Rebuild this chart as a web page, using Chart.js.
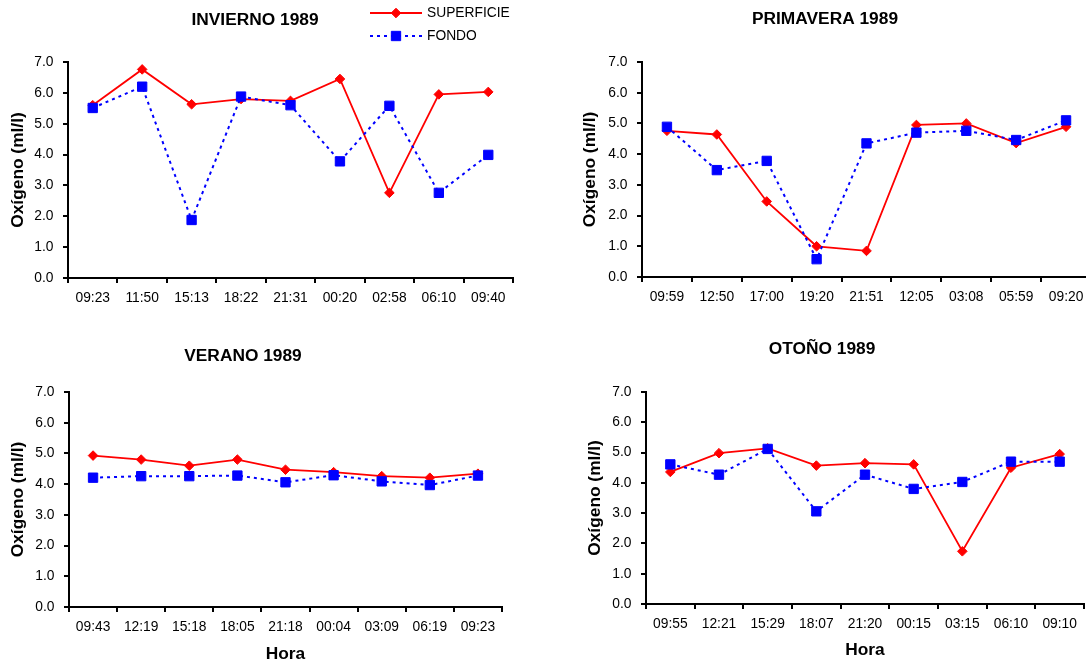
<!DOCTYPE html>
<html>
<head>
<meta charset="utf-8">
<script src="https://cdn.jsdelivr.net/npm/chart.js@4.4.1/dist/chart.umd.min.js"></script>
<style>
html, body { margin:0; padding:0; background:#fff; overflow:hidden; width:1086px; height:661px; }
.panel { position:absolute; }
</style>
</head>
<body>
<div class="panel" style="left:0px;top:0px;width:543px;height:320px"><canvas id="cInvierno" width="543" height="320"></canvas></div>
<div class="panel" style="left:543px;top:0px;width:560px;height:320px"><canvas id="cPrimavera" width="560" height="320"></canvas></div>
<div class="panel" style="left:0px;top:330px;width:543px;height:340px"><canvas id="cVerano" width="543" height="340"></canvas></div>
<div class="panel" style="left:543px;top:330px;width:560px;height:340px"><canvas id="cOtono" width="560" height="340"></canvas></div>
<script>
// ---------------- DATA ----------------
const seriesNames = ['SUPERFICIE', 'FONDO'];
const yTickLabels = ['0.0', '1.0', '2.0', '3.0', '4.0', '5.0', '6.0', '7.0'];

const inviernoHoras = ['09:23', '11:50', '15:13', '18:22', '21:31', '00:20', '02:58', '06:10', '09:40'];
const inviernoSuperficie = [5.60, 6.76, 5.63, 5.80, 5.74, 6.45, 2.76, 5.95, 6.03];
const inviernoFondo = [5.51, 6.20, 1.88, 5.88, 5.60, 3.78, 5.58, 2.76, 3.99];

const primaveraHoras = ['09:59', '12:50', '17:00', '19:20', '21:51', '12:05', '03:08', '05:59', '09:20'];
const primaveraSuperficie = [4.76, 4.64, 2.46, 1.00, 0.85, 4.95, 5.00, 4.36, 4.89];
const primaveraFondo = [4.89, 3.48, 3.78, 0.58, 4.35, 4.70, 4.76, 4.46, 5.10];

const veranoHoras = ['09:43', '12:19', '15:18', '18:05', '21:18', '00:04', '03:09', '06:19', '09:23'];
const veranoSuperficie = [4.93, 4.80, 4.60, 4.80, 4.47, 4.39, 4.26, 4.21, 4.34];
const veranoFondo = [4.21, 4.26, 4.26, 4.28, 4.06, 4.29, 4.09, 3.97, 4.28];

const otonoHoras = ['09:55', '12:21', '15:29', '18:07', '21:20', '00:15', '03:15', '06:10', '09:10'];
const otonoSuperficie = [4.36, 4.98, 5.14, 4.57, 4.65, 4.61, 1.74, 4.50, 4.95];
const otonoFondo = [4.61, 4.27, 5.12, 3.06, 4.27, 3.80, 4.03, 4.70, 4.70];

// ---------------- STYLE / LAYOUT ----------------
const FONT = "'Liberation Sans', Arial, Helvetica, sans-serif";
Chart.defaults.font.family = FONT;
Chart.defaults.color = '#000';

const RED = '#FF0000';
const BLUE = '#0000FF';
const TICK_SIZE = 13.8;
const BOLD_SIZE = 17.33;

function drawMarker(ctx, style, x, y, r, color) {
  ctx.save();
  ctx.beginPath();
  if (style === 'rectRot') {
    ctx.moveTo(x - r, y); ctx.lineTo(x, y - r); ctx.lineTo(x + r, y); ctx.lineTo(x, y + r); ctx.closePath();
  } else {
    const s = Math.SQRT1_2 * r;
    ctx.rect(x - s, y - s, 2 * s, 2 * s);
  }
  ctx.fillStyle = color; ctx.fill();
  ctx.lineWidth = 1; ctx.strokeStyle = color; ctx.stroke();
  ctx.restore();
}

const panelTextPlugin = {
  id: 'panelText',
  afterDraw(chart, args, opts) {
    const ctx = chart.ctx;
    if (opts.title) {
      ctx.save();
      ctx.font = 'bold ' + BOLD_SIZE + 'px ' + FONT;
      ctx.fillStyle = '#000';
      ctx.textAlign = 'center';
      ctx.textBaseline = 'middle';
      ctx.fillText(opts.title, opts.titleX, opts.titleY);
      ctx.restore();
    }
    if (opts.legend) {
      const L = opts.legend;
      chart.data.datasets.forEach((ds, i) => {
        const y = L.y0 + i * L.dy;
        ctx.save();
        ctx.strokeStyle = ds.borderColor;
        ctx.lineWidth = ds.borderWidth;
        ctx.setLineDash(ds.borderDash || []);
        ctx.beginPath();
        ctx.moveTo(L.x1, y); ctx.lineTo(L.x2, y);
        ctx.stroke();
        ctx.setLineDash([]);
        ctx.restore();
        drawMarker(ctx, ds.pointStyle, (L.x1 + L.x2) / 2, y, ds.pointRadius, ds.pointBackgroundColor);
        ctx.save();
        ctx.font = TICK_SIZE + 'px ' + FONT;
        ctx.fillStyle = '#000';
        ctx.textAlign = 'left';
        ctx.textBaseline = 'middle';
        ctx.fillText(ds.label, L.x2 + 5, y);
        ctx.restore();
      });
    }
  }
};

function makeChart(id, labels, sup, fondo, g) {
  new Chart(document.getElementById(id), {
    type: 'line',
    data: {
      labels: labels,
      datasets: [
        {
          label: seriesNames[0], data: sup,
          borderColor: RED, backgroundColor: RED, borderWidth: 1.8,
          pointStyle: 'rectRot', pointRadius: 4.8,
          pointBackgroundColor: RED, pointBorderColor: RED, pointBorderWidth: 1,
          tension: 0, fill: false, order: 2
        },
        {
          label: seriesNames[1], data: fondo,
          borderColor: BLUE, backgroundColor: BLUE, borderWidth: 2, borderDash: [3, 4],
          pointStyle: 'rect', pointRadius: 6.6,
          pointBackgroundColor: BLUE, pointBorderColor: BLUE, pointBorderWidth: 1,
          tension: 0, fill: false, order: 1
        }
      ]
    },
    options: {
      responsive: false,
      animation: false,
      events: [],
      layout: { padding: { left: 0, top: g.top, right: g.right, bottom: 0 } },
      plugins: {
        legend: { display: false },
        tooltip: { enabled: false },
        title: { display: false },
        panelText: { title: g.title, titleX: g.titleX, titleY: g.titleY, legend: g.legend || null }
      },
      scales: {
        x: {
          type: 'category',
          offset: true,
          grid: { offset: true, drawOnChartArea: false, drawTicks: true, tickLength: 5, color: '#000', lineWidth: 2 },
          border: { display: true, color: '#000', width: 2 },
          ticks: { padding: 7, font: { size: TICK_SIZE }, color: '#000', maxRotation: 0, autoSkip: false },
          title: g.xTitle
            ? { display: true, text: 'Hora', color: '#000', font: { size: BOLD_SIZE, weight: 'bold' }, padding: { top: 0, bottom: g.xTitlePad } }
            : { display: false },
          afterFit(scale) { scale.height = g.xHeight; }
        },
        y: {
          min: 0, max: 7,
          grid: { drawOnChartArea: false, drawTicks: true, tickLength: 5, color: '#000', lineWidth: 2 },
          border: { display: true, color: '#000', width: 2 },
          ticks: {
            stepSize: 1, padding: 9.5, font: { size: TICK_SIZE }, color: '#000',
            callback: (v) => yTickLabels[Math.round(v)]
          },
          title: { display: true, text: 'Oxígeno (ml/l)', color: '#000', font: { size: BOLD_SIZE, weight: 'bold' }, padding: { top: g.yTitlePad, bottom: 0 } },
          afterFit(scale) { scale.width = g.yWidth; }
        }
      }
    },
    plugins: [panelTextPlugin]
  });
}

makeChart('cInvierno', inviernoHoras, inviernoSuperficie, inviernoFondo, {
  top: 62, right: 30, yWidth: 68, xHeight: 42, yTitlePad: 7.8,
  title: 'INVIERNO 1989', titleX: 255, titleY: 20,
  legend: { x1: 370, x2: 422, y0: 13, dy: 23 }
});
makeChart('cPrimavera', primaveraHoras, primaveraSuperficie, primaveraFondo, {
  top: 62, right: 12, yWidth: 99, xHeight: 43, yTitlePad: 36.6,
  title: 'PRIMAVERA 1989', titleX: 282, titleY: 19
});
makeChart('cVerano', veranoHoras, veranoSuperficie, veranoFondo, {
  top: 62, right: 41, yWidth: 69, xHeight: 63, yTitlePad: 7.6,
  xTitle: true, xTitlePad: 5.6,
  title: 'VERANO 1989', titleX: 243, titleY: 26
});
makeChart('cOtono', otonoHoras, otonoSuperficie, otonoFondo, {
  top: 62, right: 19, yWidth: 103, xHeight: 66, yTitlePad: 41.6,
  xTitle: true, xTitlePad: 9.6,
  title: 'OTOÑO 1989', titleX: 279, titleY: 19
});
</script>
</body>
</html>
